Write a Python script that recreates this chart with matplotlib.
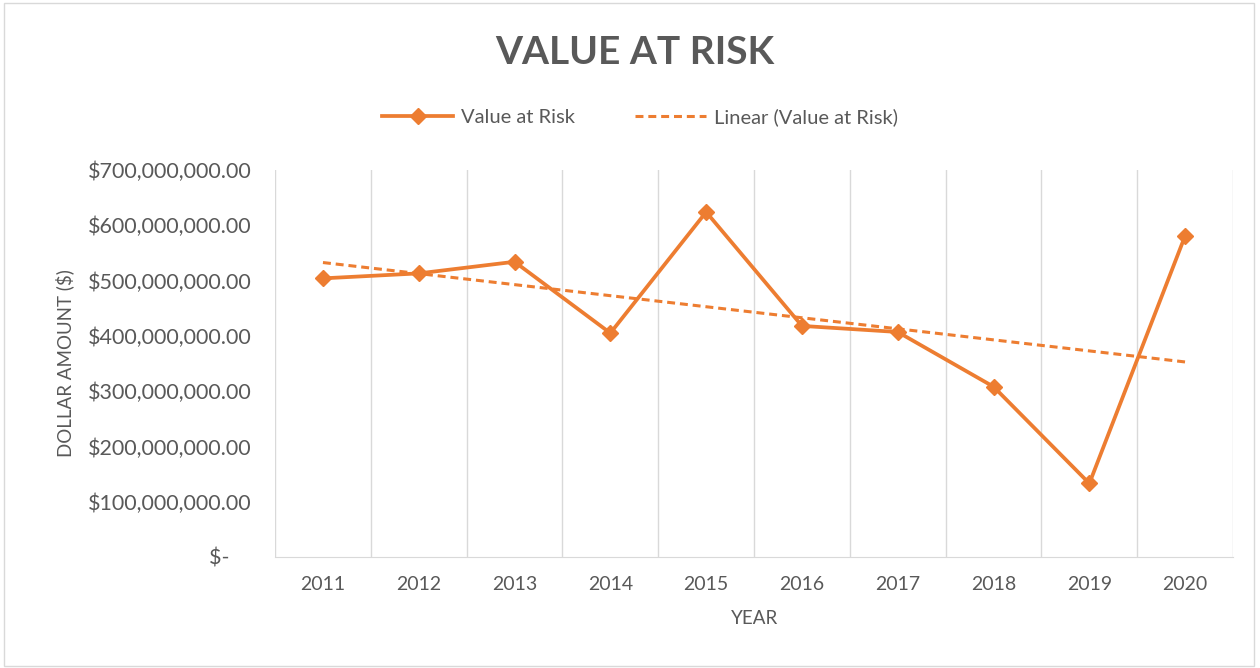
import numpy as np
import matplotlib
matplotlib.use("Agg")
import matplotlib.pyplot as plt
from matplotlib.patches import Rectangle
from matplotlib.ticker import FuncFormatter

# ---------- data ----------
years = ["2011", "2012", "2013", "2014", "2015", "2016", "2017", "2018", "2019", "2020"]
var_values = [504e6, 513e6, 534e6, 405e6, 624e6, 418e6, 407e6, 308e6, 133e6, 581e6]
y_ticks = [0, 100e6, 200e6, 300e6, 400e6, 500e6, 600e6, 700e6]

ORANGE = "#ED7D31"
GREY = "#595959"
plt.rcParams["font.family"] = ["Lato", "DejaVu Sans"]

x = np.arange(len(years))
slope, icpt = np.polyfit(x, var_values, 1)
trend = slope * x + icpt

fig = plt.figure(figsize=(12.6, 6.68), dpi=100)
fig.patches.append(Rectangle((0.003, 0.003), 0.992, 0.992, transform=fig.transFigure,
                             fill=False, ec="#d9d9d9", lw=1))
ax = fig.add_axes([0.2183, 0.1662, 0.7603, 0.5793])

ax.plot(x, var_values, c=ORANGE, lw=2.7, marker="D", ms=8.5, label="Value at Risk")
ax.plot(x, trend, c=ORANGE, lw=2.2, ls=(0, (2.6, 1.6)), label="Linear (Value at Risk)")

ax.set_xlim(-0.5, len(years) - 0.5)
ax.set_ylim(0, 700e6)
ax.set_xticks(x)
ax.set_xticklabels(years)
ax.set_xticks(np.arange(-0.5, len(years)), minor=True)
ax.grid(which="minor", axis="x", color="#d9d9d9", lw=1)
ax.tick_params(axis="x", which="both", length=0, pad=14, labelsize=14, labelcolor=GREY)
ax.set_yticks(y_ticks)
ax.yaxis.set_major_formatter(FuncFormatter(lambda v, p: "$-    " if v == 0 else f"${v:,.2f}"))
ax.tick_params(axis="y", length=0, pad=17, labelsize=15.5, labelcolor=GREY)
for s in ["left", "right", "top"]:
    ax.spines[s].set_visible(False)
ax.spines["bottom"].set_color("#d9d9d9")

ax.set_xlabel("YEAR", fontsize=13.5, color=GREY, labelpad=12)
ax.set_ylabel("DOLLAR AMOUNT ($)", fontsize=13.5, color=GREY, labelpad=10)

fig.text(0.504, 0.922, "VALUE AT RISK", ha="center", va="center", fontsize=28,
         fontweight="bold", color=GREY)
fig.legend(loc="center", bbox_to_anchor=(0.508, 0.825), ncol=2, frameon=False,
           fontsize=14.5, labelcolor=GREY, handlelength=3.5, columnspacing=3, handletextpad=0.4)

fig.savefig("out.png", dpi=100)
